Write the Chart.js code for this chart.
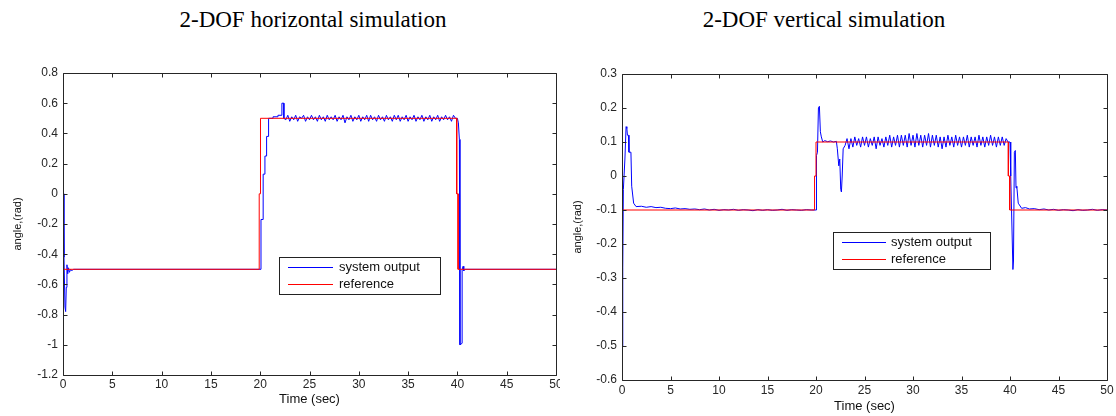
<!DOCTYPE html>
<html>
<head>
<meta charset="utf-8">
<script src="https://cdn.jsdelivr.net/npm/chart.js@4.4.1/dist/chart.umd.min.js"></script>
<style>
  body { margin: 0; background: #fff; width: 1116px; height: 416px; position: relative; overflow: hidden; }
  .title { position: absolute; top: 8px; font-family: "Liberation Serif", "Times New Roman", serif; font-size: 23px; line-height: 23px; white-space: nowrap; transform: translateX(-50%); color: #000; }
  .box { position: absolute; top: 0; height: 416px; }
</style>
</head>
<body>
<div class="title" style="left:313px">2-DOF horizontal simulation</div>
<div class="title" style="left:824px">2-DOF vertical simulation</div>
<div class="box" style="left:0;width:560px"><canvas id="hChart"></canvas></div>
<div class="box" style="left:560px;width:556px"><canvas id="vChart"></canvas></div>
<script>
// tick labels
const timeTicks = [0, 5, 10, 15, 20, 25, 30, 35, 40, 45, 50];
const hAngleTicks = [-1.2, -1, -0.8, -0.6, -0.4, -0.2, 0, 0.2, 0.4, 0.6, 0.8];
const vAngleTicks = [-0.6, -0.5, -0.4, -0.3, -0.2, -0.1, 0, 0.1, 0.2, 0.3];
const seriesNames = ["system output", "reference"];

// horizontal: [time, angle]
const hReference = [[0,-0.5],[19.9,-0.5],[19.9,0],[20.03,0],[20.03,0.5],[39.93,0.5],[39.93,0],[40.07,0],[40.07,-0.5],[50,-0.5]];
const hOutputStart = [[0,0],[0.1,-0.42],[0.2,-0.75],[0.27,-0.78],[0.33,-0.62],[0.4,-0.47],[0.48,-0.53],[0.56,-0.49],
  [0.65,-0.52],[0.78,-0.5],[0.9,-0.51],[1.05,-0.5],[20.08,-0.5],[20.08,-0.17],[20.3,-0.17],[20.3,0.13],[20.48,0.13],
  [20.48,0.25],[20.65,0.25],[20.65,0.38],[20.85,0.38],[20.85,0.5],[21.3,0.5],[21.3,0.51],[21.8,0.51],[21.8,0.52],
  [22.2,0.52],[22.2,0.6],[22.4,0.6],[22.4,0.5]];
// ripple while holding +0.5, sampled every 0.2 s from 22.6 s
const hRippleStart = 22.6;
const hRipple = [0.49,0.52,0.48,0.51,0.49,0.52,0.48,0.51,0.50,0.52,0.48,0.51,0.49,0.52,0.49,0.51,0.48,0.52,0.49,0.51,
  0.48,0.52,0.49,0.51,0.49,0.52,0.48,0.51,0.49,0.52,0.47,0.51,0.49,0.52,0.48,0.51,0.49,0.52,0.48,0.51,
  0.49,0.52,0.48,0.52,0.49,0.51,0.48,0.52,0.49,0.51,0.48,0.52,0.49,0.51,0.48,0.52,0.49,0.52,0.48,0.51,
  0.49,0.52,0.48,0.51,0.49,0.52,0.48,0.51,0.49,0.52,0.48,0.51,0.49,0.52,0.48,0.51,0.49,0.52,0.48,0.51,
  0.49,0.52,0.49,0.51,0.48,0.52,0.50];
const hOutputEnd = [[40.0,0.5],[40.1,0.47],[40.2,0.36],[40.26,0.36],[40.26,-1.0],[40.48,-0.99],[40.48,-0.5],
  [40.58,-0.48],[40.65,-0.51],[40.75,-0.5],[50,-0.5]];

// vertical: [time, angle]
const vReference = [[0,-0.1],[19.85,-0.1],[19.85,0],[20,0],[20,0.1],[39.83,0.1],[39.83,0],[39.97,0],[39.97,-0.1],[50,-0.1]];
const vOutputStart = [[0,-0.5],[0.08,-0.27],[0.14,-0.04],[0.3,0.05],[0.42,0.145],[0.5,0.14],[0.56,0.12],[0.66,0.12],
  [0.72,0.07],[0.92,0.07],[1.0,-0.03],[1.2,-0.08],[1.45,-0.09],[2.0,-0.089],[2.5,-0.092],[3,-0.09],[3.5,-0.093],
  [4,-0.092],[4.5,-0.095],[5,-0.096],[5.5,-0.094],[6,-0.097],[6.5,-0.096],[7,-0.098],[7.5,-0.097],[8,-0.099],
  [8.5,-0.097],[9,-0.1],[9.5,-0.098],[10,-0.101],[10.5,-0.099],[11,-0.1],[11.5,-0.098],[12,-0.101],[12.5,-0.099],
  [13,-0.1],[13.5,-0.102],[14,-0.099],[14.5,-0.101],[15,-0.099],[15.5,-0.101],[16,-0.1],[16.5,-0.098],[17,-0.101],
  [17.5,-0.099],[18,-0.1],[18.5,-0.101],[19,-0.099],[19.5,-0.1],[20.0,-0.1],[20.05,0.06],[20.15,0.07],[20.25,0.2],
  [20.35,0.205],[20.45,0.13],[20.55,0.115],[20.7,0.1],[20.9,0.104],[21.2,0.101],[21.5,0.103],[21.8,0.1],[22.1,0.102],
  [22.2,0.08],[22.35,0.03],[22.45,0.05],[22.55,-0.04],[22.62,-0.047],[22.7,0.0],[22.8,0.08]];
const vRippleStart = 23.0;
const vRipple = [0.09,0.11,0.08,0.11,0.085,0.115,0.09,0.11,0.085,0.115,
  0.09,0.115,0.085,0.11,0.09,0.115,0.08,0.115,0.09,0.11,
  0.085,0.115,0.09,0.12,0.085,0.115,0.09,0.12,0.085,0.12,
  0.09,0.12,0.085,0.125,0.09,0.12,0.085,0.125,0.09,0.12,
  0.085,0.12,0.09,0.125,0.085,0.12,0.09,0.12,0.085,0.115,
  0.08,0.115,0.085,0.12,0.09,0.115,0.085,0.12,0.09,0.115,
  0.085,0.115,0.09,0.12,0.085,0.115,0.09,0.115,0.085,0.12,
  0.09,0.115,0.085,0.115,0.09,0.12,0.09,0.115,0.085,0.115,
  0.09,0.115,0.09,0.11,0.1];
const vOutputEnd = [[40.0,0.1],[40.05,0.05],[40.1,0.0],[40.2,-0.15],[40.3,-0.275],[40.36,-0.25],[40.45,0.07],
  [40.55,0.075],[40.62,-0.035],[40.7,-0.03],[40.85,-0.08],[41.2,-0.095],[41.6,-0.093],[42,-0.097],[42.5,-0.096],
  [43,-0.099],[43.5,-0.097],[44,-0.1],[44.5,-0.098],[45,-0.101],[45.5,-0.099],[46,-0.1],[46.5,-0.102],[47,-0.099],
  [47.5,-0.101],[48,-0.1],[48.5,-0.098],[49,-0.101],[49.5,-0.099],[50,-0.1]];

const RIPPLE_DT = 0.2;

function toPoints(pairs) {
  return pairs.map(p => ({x: p[0], y: p[1]}));
}
function ripplePoints(start, values) {
  return values.map((v, i) => ({x: Math.round((start + i * RIPPLE_DT) * 100) / 100, y: v}));
}

const tickFont = {family: "'Liberation Sans', Arial, sans-serif", size: 12};
const axisColor = "#262626";

// box round the plot with inward ticks, like matlab
const framePlugin = {
  id: "frame",
  afterDatasetsDraw(chart) {
    const {ctx, chartArea: a, scales: {x, y}} = chart;
    const l = Math.round(a.left) + 0.5, r = Math.round(a.right) + 0.5;
    const t = Math.round(a.top) + 0.5, b = Math.round(a.bottom) + 0.5;
    ctx.save();
    ctx.strokeStyle = axisColor;
    ctx.lineWidth = 1;
    ctx.beginPath();
    ctx.rect(l, t, r - l, b - t);
    x.ticks.forEach(tk => {
      const px = Math.round(x.getPixelForValue(tk.value)) + 0.5;
      ctx.moveTo(px, b); ctx.lineTo(px, b - 4);
      ctx.moveTo(px, t); ctx.lineTo(px, t + 4);
    });
    y.ticks.forEach(tk => {
      const py = Math.round(y.getPixelForValue(tk.value)) + 0.5;
      ctx.moveTo(l, py); ctx.lineTo(l + 4, py);
      ctx.moveTo(r, py); ctx.lineTo(r - 4, py);
    });
    ctx.stroke();
    ctx.restore();
  }
};

const legendPlugin = {
  id: "boxLegend",
  afterDraw(chart, args, opts) {
    const {ctx} = chart;
    const [x0, y0, x1, y1] = opts.box;
    ctx.save();
    ctx.fillStyle = "#fff";
    ctx.fillRect(x0, y0, x1 - x0, y1 - y0);
    ctx.strokeStyle = "#222";
    ctx.lineWidth = 1;
    ctx.strokeRect(Math.round(x0) + 0.5, Math.round(y0) + 0.5, Math.round(x1 - x0), Math.round(y1 - y0));
    ctx.font = "13px 'Liberation Sans', Arial, sans-serif";
    ctx.textBaseline = "middle";
    chart.data.datasets.forEach((ds, i) => {
      const yy = Math.round(opts.rows[i]) + 0.5;
      ctx.strokeStyle = ds.borderColor;
      ctx.beginPath();
      ctx.moveTo(opts.line[0], yy);
      ctx.lineTo(opts.line[1], yy);
      ctx.stroke();
      ctx.fillStyle = "#111";
      ctx.fillText(ds.label, opts.textX, yy);
    });
    ctx.restore();
  }
};

function makeChart(id, cfg) {
  return new Chart(document.getElementById(id), {
    type: "line",
    data: {
      datasets: [{
        label: seriesNames[0],
        data: cfg.output,
        borderColor: "#0000ff",
        borderWidth: 1,
        pointRadius: 0,
        tension: 0,
        order: 1
      }, {
        label: seriesNames[1],
        data: cfg.reference,
        borderColor: "#ff0000",
        borderWidth: 1,
        pointRadius: 0,
        tension: 0,
        order: 0
      }]
    },
    options: {
      responsive: true,
      maintainAspectRatio: false,
      animation: false,
      events: [],
      layout: {padding: {top: cfg.top, right: cfg.right, left: 0, bottom: 0}},
      plugins: {
        legend: {display: false},
        tooltip: {enabled: false},
        boxLegend: cfg.legend
      },
      scales: {
        x: {
          type: "linear",
          min: 0,
          max: 50,
          afterBuildTicks: s => { s.ticks = timeTicks.map(v => ({value: v})); },
          afterFit: s => { s.height = cfg.xHeight; s.paddingLeft = 0; s.paddingRight = 0; },
          grid: {display: false, drawTicks: false},
          border: {display: false},
          ticks: {font: tickFont, color: axisColor, padding: cfg.xPad, maxRotation: 0, autoSkip: false},
          title: {display: true, text: "Time (sec)", color: "#111", padding: {top: 0, bottom: cfg.titlePad},
            font: {family: "'Liberation Sans', Arial, sans-serif", size: 13}}
        },
        y: {
          type: "linear",
          min: cfg.yTicks[0],
          max: cfg.yTicks[cfg.yTicks.length - 1],
          afterBuildTicks: s => { s.ticks = cfg.yTicks.map(v => ({value: v})); },
          afterFit: s => { s.width = cfg.yWidth; s.paddingTop = 0; s.paddingBottom = 0; },
          grid: {display: false, drawTicks: false},
          border: {display: false},
          ticks: {font: tickFont, color: axisColor, padding: 5, autoSkip: false,
            callback: v => String(Math.round(v * 10) / 10)},
          title: {display: true, text: "angle,(rad)", color: "#111", padding: {top: 11, bottom: 0},
            font: {family: "'Liberation Sans', Arial, sans-serif", size: 11}}
        }
      }
    },
    plugins: [framePlugin, legendPlugin]
  });
}

const hChart = makeChart("hChart", {
  output: toPoints(hOutputStart).concat(ripplePoints(hRippleStart, hRipple), toPoints(hOutputEnd)),
  reference: toPoints(hReference),
  yTicks: hAngleTicks,
  top: 73, right: 4, yWidth: 63, xHeight: 41, xPad: 2, titlePad: 9,
  legend: {box: [279, 257, 440, 294], line: [288, 333], textX: 339, rows: [267, 284]}
});

const vChart = makeChart("vChart", {
  output: toPoints(vOutputStart).concat(ripplePoints(vRippleStart, vRipple), toPoints(vOutputEnd)),
  reference: toPoints(vReference),
  yTicks: vAngleTicks,
  top: 74, right: 9, yWidth: 62, xHeight: 36, xPad: 3, titlePad: 2,
  legend: {box: [273, 232, 430, 269], line: [282, 326], textX: 331, rows: [242, 259]}
});
</script>
</body>
</html>
